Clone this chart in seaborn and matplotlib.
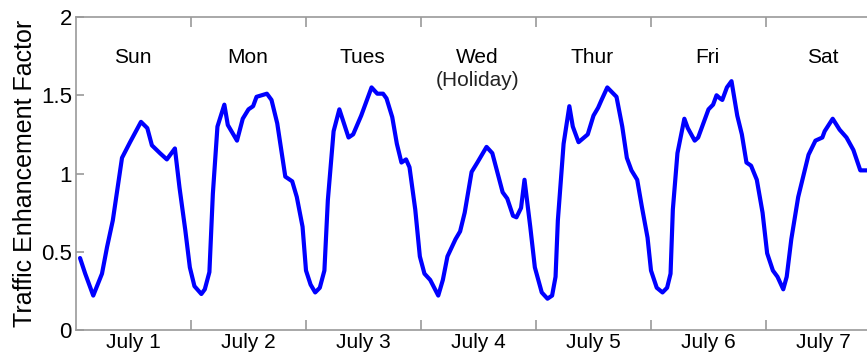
import matplotlib
matplotlib.use("Agg")
import matplotlib.pyplot as plt
import pandas as pd
import seaborn as sns

# Elapsed time in days since the start of July 1, and the measured factor
time_days = [
    0.035, 0.08, 0.15, 0.226, 0.27, 0.32, 0.40, 0.47, 0.565, 0.62, 0.66, 0.73,
    0.79, 0.86, 0.90, 0.95, 0.99, 1.03,
    1.09, 1.12, 1.16, 1.19, 1.23, 1.29, 1.32, 1.40, 1.45, 1.50, 1.54, 1.57,
    1.66, 1.70, 1.75, 1.82, 1.88, 1.92, 1.97, 2.00, 2.04,
    2.08, 2.12, 2.16, 2.19, 2.24, 2.29, 2.37, 2.41, 2.48, 2.57, 2.62, 2.67,
    2.70, 2.75, 2.79, 2.83, 2.87, 2.90, 2.95, 2.99, 3.03, 3.08,
    3.15, 3.19, 3.23, 3.30, 3.34, 3.38, 3.44, 3.49, 3.57, 3.62, 3.66, 3.71,
    3.75, 3.80, 3.83, 3.87, 3.90, 3.95, 3.99, 4.05,
    4.10, 4.14, 4.17, 4.19, 4.24, 4.29, 4.32, 4.37, 4.45, 4.50, 4.54, 4.57,
    4.62, 4.66, 4.70, 4.75, 4.79, 4.83, 4.88, 4.92, 4.97, 5.00, 5.05,
    5.10, 5.14, 5.17, 5.19, 5.23, 5.29, 5.32, 5.38, 5.41, 5.45, 5.50, 5.54,
    5.57, 5.60, 5.62, 5.66, 5.70, 5.75, 5.79, 5.83, 5.87, 5.92, 5.97, 6.01,
    6.06,
    6.10, 6.15, 6.18, 6.22, 6.28, 6.32, 6.37, 6.43, 6.49, 6.51, 6.58, 6.64,
    6.70, 6.76, 6.82, 6.88,
]
traffic_factor = [
    0.46, 0.36, 0.22, 0.36, 0.53, 0.70, 1.10, 1.20, 1.33, 1.29, 1.18, 1.13,
    1.09, 1.16, 0.91, 0.64, 0.40, 0.28,
    0.23, 0.26, 0.37, 0.87, 1.30, 1.44, 1.31, 1.21, 1.35, 1.41, 1.43, 1.49,
    1.51, 1.47, 1.32, 0.98, 0.95, 0.85, 0.66, 0.38, 0.29,
    0.24, 0.27, 0.38, 0.83, 1.27, 1.41, 1.23, 1.25, 1.37, 1.55, 1.51, 1.51,
    1.48, 1.36, 1.19, 1.07, 1.09, 1.04, 0.77, 0.47, 0.36, 0.32,
    0.22, 0.32, 0.47, 0.58, 0.63, 0.75, 1.01, 1.07, 1.17, 1.13, 1.02, 0.88,
    0.84, 0.73, 0.72, 0.78, 0.96, 0.66, 0.40, 0.24,
    0.20, 0.22, 0.34, 0.70, 1.19, 1.43, 1.30, 1.20, 1.25, 1.37, 1.42, 1.47,
    1.55, 1.52, 1.49, 1.30, 1.10, 1.02, 0.96, 0.79, 0.59, 0.38, 0.27,
    0.24, 0.27, 0.36, 0.77, 1.13, 1.35, 1.29, 1.21, 1.23, 1.31, 1.41, 1.44,
    1.50, 1.48, 1.47, 1.55, 1.59, 1.37, 1.25, 1.07, 1.05, 0.96, 0.75, 0.49,
    0.38,
    0.34, 0.26, 0.34, 0.58, 0.85, 0.97, 1.12, 1.21, 1.23, 1.27, 1.35, 1.28,
    1.23, 1.15, 1.02, 1.02,
]

day_names = ["Sun", "Mon", "Tues", "Wed", "Thur", "Fri", "Sat"]
date_labels = ["July 1", "July 2", "July 3", "July 4", "July 5", "July 6", "July 7"]
holiday_note = "(Holiday)"
holiday_index = 3

y_ticks = [0, 0.5, 1, 1.5, 2]
y_tick_labels = ["0", "0.5", "1", "1.5", "2"]

sns.set_theme(style="white")
plt.rcParams["font.family"] = ["Liberation Sans", "DejaVu Sans"]
plt.rcParams["text.color"] = "black"
plt.rcParams["axes.labelcolor"] = "black"

df = pd.DataFrame({"day": time_days, "factor": traffic_factor})

fig = plt.figure(figsize=(8.67, 3.6), dpi=100)
ax = fig.add_axes([76 / 867, 30 / 360, 1 - 76 / 867, 313 / 360])

sns.lineplot(data=df, x="day", y="factor", ax=ax, color="#0000ff",
             linewidth=3.0, estimator=None, sort=False)
for line in ax.get_lines():
    line.set_solid_joinstyle("round")
    line.set_solid_capstyle("round")

n_days = len(date_labels)
ax.set_xlim(0, (867 - 76) / 115)
ax.set_ylim(0, 2)

spine_color = "#9a9a9a"
for side in ("left", "bottom", "top"):
    ax.spines[side].set_visible(True)
    ax.spines[side].set_color(spine_color)
    ax.spines[side].set_linewidth(1.2)
ax.spines["right"].set_visible(False)

# Day boundaries get tick marks; dates sit centred under each day
ax.set_xticks(list(range(1, n_days)))
ax.set_xticklabels([])
ax.set_xticks([i + 0.5 for i in range(n_days)], minor=True)
ax.set_xticklabels(date_labels, minor=True, fontsize=15)
ax.tick_params(axis="x", which="major", direction="in", length=7, width=1.2,
               color=spine_color, top=True, bottom=True)
ax.tick_params(axis="x", which="minor", length=0, pad=2, labelcolor="black")

ax.set_yticks(y_ticks)
ax.set_yticklabels(y_tick_labels, fontsize=16)
ax.tick_params(axis="y", direction="in", length=6, width=1.2,
               color=spine_color, labelcolor="black", left=True, right=False,
               pad=3)

ax.set_xlabel("")
ax.set_ylabel("Traffic Enhancement Factor", fontsize=18, labelpad=3,
              color="black")

for i, name in enumerate(day_names):
    ax.text(i + 0.49, 1.74, name, ha="center", va="center", fontsize=15,
            color="black")
ax.text(holiday_index + 0.49, 1.595, holiday_note, ha="center", va="center",
        fontsize=15, color="#222222")

fig.savefig("out.png", dpi=100)
